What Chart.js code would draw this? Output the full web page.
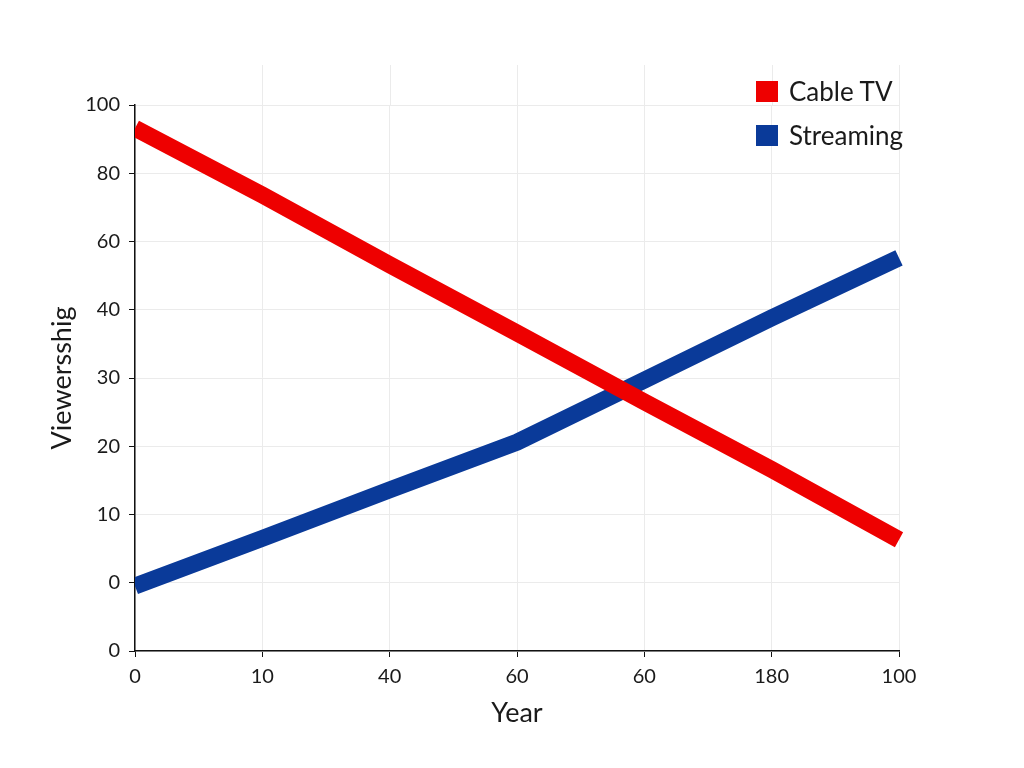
<!DOCTYPE html>
<html>
<head>
<meta charset="utf-8">
<script src="https://cdn.jsdelivr.net/npm/chart.js@4.4.1/dist/chart.umd.min.js"></script>
<style>
  html, body { margin: 0; padding: 0; background: #ffffff; }
  #wrap { position: relative; width: 1024px; height: 768px; }
  canvas { display: block; }
  #legend { position: absolute; left: 756px; top: 80px; font-family: Lato, "Noto Sans", sans-serif; font-size: 26px; color: #1a1a1a; }
  .item { display: flex; align-items: center; height: 22px; margin-bottom: 22px; white-space: nowrap; }
  .sw { width: 22px; height: 21px; margin-right: 11px; flex: none; }
</style>
</head>
<body>
<div id="wrap">
  <canvas id="c" width="1024" height="768"></canvas>
  <div id="legend"></div>
</div>
<script>
// ---- data ----
const xLabels = ['0', '10', '40', '60', '60', '180', '100'];
const yLabels = ['0', '0', '10', '20', '30', '40', '60', '80', '100'];
const seriesNames = ['Cable TV', 'Streaming'];
const cableTV = [7.66, 6.68, 5.66, 4.66, 3.65, 2.66, 1.63];
const streaming = [0.95, 1.65, 2.36, 3.06, 3.97, 4.88, 5.76];
const seriesColors = ['#ee0000', '#0a3a99'];

const FONT = 'Lato, "Noto Sans", sans-serif';
const TXT = '#1a1a1a';

// faint vertical grid extensions above the top tick
const gridExt = {
  id: 'gridExt',
  beforeDatasetsDraw(chart) {
    const x = chart.scales.x, ctx = chart.ctx, top = chart.chartArea.top;
    ctx.save();
    ctx.strokeStyle = '#ebebeb';
    ctx.lineWidth = 1;
    for (let i = 1; i < xLabels.length; i++) {
      const px = Math.round(x.getPixelForTick(i)) + 0.5;
      ctx.beginPath();
      ctx.moveTo(px, top - 40);
      ctx.lineTo(px, top);
      ctx.stroke();
    }
    ctx.restore();
  }
};

const chart = new Chart(document.getElementById('c'), {
  type: 'line',
  data: {
    labels: xLabels,
    datasets: [
      { label: seriesNames[0], data: cableTV, borderColor: seriesColors[0], backgroundColor: seriesColors[0] },
      { label: seriesNames[1], data: streaming, borderColor: seriesColors[1], backgroundColor: seriesColors[1] }
    ]
  },
  options: {
    responsive: false,
    animation: false,
    devicePixelRatio: 1,
    layout: { padding: { top: 105, right: 125, left: 0, bottom: 0 } },
    elements: {
      line: { borderWidth: 17, tension: 0, borderCapStyle: 'butt', borderJoinStyle: 'miter', fill: false },
      point: { radius: 0, hoverRadius: 0 }
    },
    datasets: { line: { clip: { left: 0, top: 30, right: 30, bottom: 30 } } },
    plugins: { legend: { display: false }, tooltip: { enabled: false } },
    scales: {
      x: {
        type: 'category',
        offset: false,
        afterFit(s) { s.height = 117; },
        grid: { color: '#ebebeb', lineWidth: 1, tickColor: '#111', tickLength: 6, drawTicks: true },
        border: { display: true, color: '#111', width: 1.5 },
        ticks: { color: TXT, font: { family: FONT, size: 20 }, padding: 8, maxRotation: 0, autoSkip: false },
        title: { display: true, text: 'Year', color: TXT, font: { family: FONT, size: 27 }, padding: { top: 0, bottom: 39 } }
      },
      y: {
        type: 'linear',
        min: 0,
        max: yLabels.length - 1,
        afterFit(s) { s.width = 135; },
        afterBuildTicks(s) { s.ticks = yLabels.map((_, i) => ({ value: i })); },
        grid: { color: '#ebebeb', lineWidth: 1, tickColor: '#111', tickLength: 6 },
        border: { display: true, color: '#111', width: 1.5 },
        ticks: {
          color: TXT, font: { family: FONT, size: 20 }, padding: 9,
          callback: (v) => yLabels[v]
        },
        title: { display: true, text: 'Viewersshig', color: TXT, font: { family: FONT, size: 27 }, padding: { top: 46, bottom: 0 } }
      }
    }
  },
  plugins: [gridExt]
});

// legend built from the chart's datasets
const lg = document.getElementById('legend');
chart.data.datasets.forEach(ds => {
  const it = document.createElement('div');
  it.className = 'item';
  const sw = document.createElement('span');
  sw.className = 'sw';
  sw.style.background = ds.borderColor;
  const tx = document.createElement('span');
  tx.textContent = ds.label;
  it.appendChild(sw); it.appendChild(tx);
  lg.appendChild(it);
});
</script>
</body>
</html>
